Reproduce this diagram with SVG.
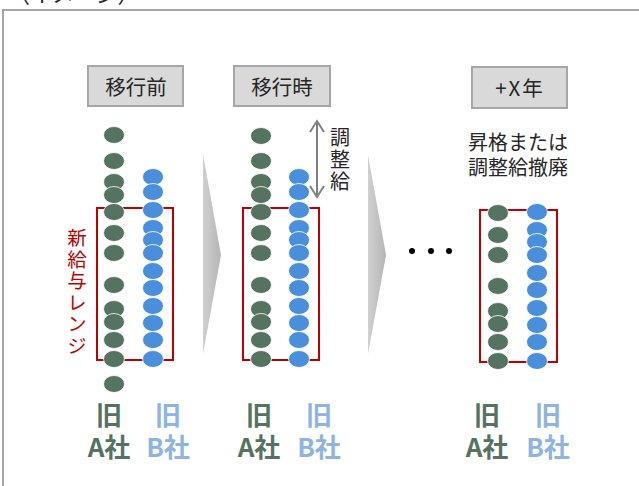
<svg xmlns="http://www.w3.org/2000/svg" width="639" height="486" viewBox="0 0 639 486">
<style>
text{font-family:"Noto Sans CJK JP","Noto Sans",sans-serif}
.hbox{fill:#d9d9d9;stroke:#a6a6a6;stroke-width:2}
.htxt{font-size:20.5px;fill:#262626;text-anchor:middle}
.g ellipse{fill:#557361;stroke:#ffffff;stroke-width:0.8}
.b ellipse{fill:#4a8fdb;stroke:#ffffff;stroke-width:0.8}
.range{fill:none;stroke:#c00000;stroke-width:2}
.la{font-size:26px;font-weight:bold;fill:#557361;text-anchor:middle}
.lb{font-size:26px;font-weight:bold;fill:#8db4e2;text-anchor:middle}
.vert{writing-mode:vertical-rl;letter-spacing:2px}
.red{font-size:19.5px;fill:#c00000}
.note{font-size:20px;fill:#262626;text-anchor:middle}
.vnote{font-size:20px;fill:#262626}
.chev{fill:url(#cg)}
.adj{fill:none;stroke:#808080;stroke-width:2}
</style>
<defs>
<linearGradient id="cg" x1="0" y1="0" x2="1" y2="0">
<stop offset="0" stop-color="#d0d0d0"/>
<stop offset="1" stop-color="#b5b5b5"/>
</linearGradient>
</defs>
<rect width="639" height="486" fill="#ffffff"/>
<text x="8" y="2" style="font-size:22px;fill:#262626">（イメージ）</text>
<rect x="3" y="10" width="700" height="600" fill="none" stroke="#a6a6a6" stroke-width="2"/>

<g id="connectors">
<polygon class="chev" points="203,154 221,255 203,354"/>
<polygon class="chev" points="368,155 386,255 368,354"/>
<g id="adjust-arrow">
<line class="adj" x1="317" y1="121" x2="317" y2="197"/>
<polyline class="adj" points="310,132 317,121 324,132"/>
<polyline class="adj" points="310,186 317,197 324,186"/>
</g>
</g>

<g id="hdr-before"><rect class="hbox" x="88" y="66" width="95" height="40"/><text class="htxt" x="136" y="95">移行前</text></g>
<g id="hdr-during"><rect class="hbox" x="234" y="66" width="96" height="40"/><text class="htxt" x="282" y="95">移行時</text></g>
<g id="hdr-after"><rect class="hbox" x="472" y="67" width="95" height="41"/><text class="htxt" x="520" y="96" style="letter-spacing:2px">+X年</text></g>

<g id="range-label">
<text class="red vert" x="77" y="228">新給与レンジ</text>
</g>

<g id="adjust-label">
<text class="vnote vert" x="340" y="127">調整給</text>
</g>

<g id="after-note">
<text class="note" x="518" y="150">昇格または<tspan x="518" dy="25">調整給撤廃</tspan></text>
</g>

<g id="ellipsis">
<circle cx="412" cy="251" r="3" fill="#000"/>
<circle cx="431" cy="251" r="3" fill="#000"/>
<circle cx="449" cy="251" r="3" fill="#000"/>
</g>

<g id="col-before">
<rect class="range" x="97" y="208" width="76" height="152"/>
<g class="g">
<ellipse cx="114" cy="135" rx="10.5" ry="8.5"/><ellipse cx="114" cy="161" rx="10.5" ry="8.5"/><ellipse cx="114" cy="182" rx="10.5" ry="8.5"/><ellipse cx="114" cy="195" rx="10.5" ry="8.5"/><ellipse cx="114" cy="212" rx="10.5" ry="8.5"/><ellipse cx="114" cy="233" rx="10.5" ry="8.5"/><ellipse cx="114" cy="253" rx="10.5" ry="8.5"/><ellipse cx="114" cy="285" rx="10.5" ry="8.5"/><ellipse cx="114" cy="309" rx="10.5" ry="8.5"/><ellipse cx="114" cy="322" rx="10.5" ry="8.5"/><ellipse cx="114" cy="340" rx="10.5" ry="8.5"/><ellipse cx="114" cy="359" rx="10.5" ry="8.5"/><ellipse cx="114" cy="384" rx="10.5" ry="8.5"/>
</g>
<g class="b">
<ellipse cx="153" cy="177" rx="10.5" ry="8.5"/><ellipse cx="153" cy="192" rx="10.5" ry="8.5"/><ellipse cx="153" cy="210" rx="10.5" ry="8.5"/><ellipse cx="153" cy="228" rx="10.5" ry="8.5"/><ellipse cx="153" cy="240" rx="10.5" ry="8.5"/><ellipse cx="153" cy="253" rx="10.5" ry="8.5"/><ellipse cx="153" cy="271" rx="10.5" ry="8.5"/><ellipse cx="153" cy="288" rx="10.5" ry="8.5"/><ellipse cx="153" cy="306" rx="10.5" ry="8.5"/><ellipse cx="153" cy="323" rx="10.5" ry="8.5"/><ellipse cx="153" cy="340" rx="10.5" ry="8.5"/><ellipse cx="153" cy="359" rx="10.5" ry="8.5"/>
</g>
<text class="la" x="109" y="425">旧<tspan x="109" dy="32">A社</tspan></text>
<text class="lb" x="168" y="425">旧<tspan x="168" dy="32">B社</tspan></text>
</g>

<g id="col-during">
<rect class="range" x="243" y="208" width="76" height="152"/>
<g class="g">
<ellipse cx="261" cy="136" rx="10.5" ry="8.5"/><ellipse cx="261" cy="161" rx="10.5" ry="8.5"/><ellipse cx="261" cy="182" rx="10.5" ry="8.5"/><ellipse cx="261" cy="195" rx="10.5" ry="8.5"/><ellipse cx="261" cy="212" rx="10.5" ry="8.5"/><ellipse cx="261" cy="233" rx="10.5" ry="8.5"/><ellipse cx="261" cy="253" rx="10.5" ry="8.5"/><ellipse cx="261" cy="285" rx="10.5" ry="8.5"/><ellipse cx="261" cy="309" rx="10.5" ry="8.5"/><ellipse cx="261" cy="322" rx="10.5" ry="8.5"/><ellipse cx="261" cy="340" rx="10.5" ry="8.5"/><ellipse cx="261" cy="359" rx="10.5" ry="8.5"/>
</g>
<g class="b">
<ellipse cx="299" cy="177" rx="10.5" ry="8.5"/><ellipse cx="299" cy="192" rx="10.5" ry="8.5"/><ellipse cx="299" cy="210" rx="10.5" ry="8.5"/><ellipse cx="299" cy="228" rx="10.5" ry="8.5"/><ellipse cx="299" cy="240" rx="10.5" ry="8.5"/><ellipse cx="299" cy="253" rx="10.5" ry="8.5"/><ellipse cx="299" cy="271" rx="10.5" ry="8.5"/><ellipse cx="299" cy="288" rx="10.5" ry="8.5"/><ellipse cx="299" cy="306" rx="10.5" ry="8.5"/><ellipse cx="299" cy="323" rx="10.5" ry="8.5"/><ellipse cx="299" cy="340" rx="10.5" ry="8.5"/><ellipse cx="299" cy="359" rx="10.5" ry="8.5"/>
</g>
<text class="la" x="259" y="425">旧<tspan x="259" dy="32">A社</tspan></text>
<text class="lb" x="319" y="425">旧<tspan x="319" dy="32">B社</tspan></text>
</g>

<g id="col-after">
<rect class="range" x="480" y="210" width="77" height="152"/>
<g class="g">
<ellipse cx="498" cy="213" rx="10.5" ry="8.5"/><ellipse cx="498" cy="235" rx="10.5" ry="8.5"/><ellipse cx="498" cy="255" rx="10.5" ry="8.5"/><ellipse cx="498" cy="286" rx="10.5" ry="8.5"/><ellipse cx="498" cy="311" rx="10.5" ry="8.5"/><ellipse cx="498" cy="324" rx="10.5" ry="8.5"/><ellipse cx="498" cy="342" rx="10.5" ry="8.5"/><ellipse cx="498" cy="361" rx="10.5" ry="8.5"/>
</g>
<g class="b">
<ellipse cx="537" cy="212" rx="10.5" ry="8.5"/><ellipse cx="537" cy="230" rx="10.5" ry="8.5"/><ellipse cx="537" cy="242" rx="10.5" ry="8.5"/><ellipse cx="537" cy="255" rx="10.5" ry="8.5"/><ellipse cx="537" cy="273" rx="10.5" ry="8.5"/><ellipse cx="537" cy="290" rx="10.5" ry="8.5"/><ellipse cx="537" cy="308" rx="10.5" ry="8.5"/><ellipse cx="537" cy="325" rx="10.5" ry="8.5"/><ellipse cx="537" cy="342" rx="10.5" ry="8.5"/><ellipse cx="537" cy="361" rx="10.5" ry="8.5"/>
</g>
<text class="la" x="487" y="425">旧<tspan x="487" dy="32">A社</tspan></text>
<text class="lb" x="548" y="425">旧<tspan x="548" dy="32">B社</tspan></text>
</g>
</svg>
